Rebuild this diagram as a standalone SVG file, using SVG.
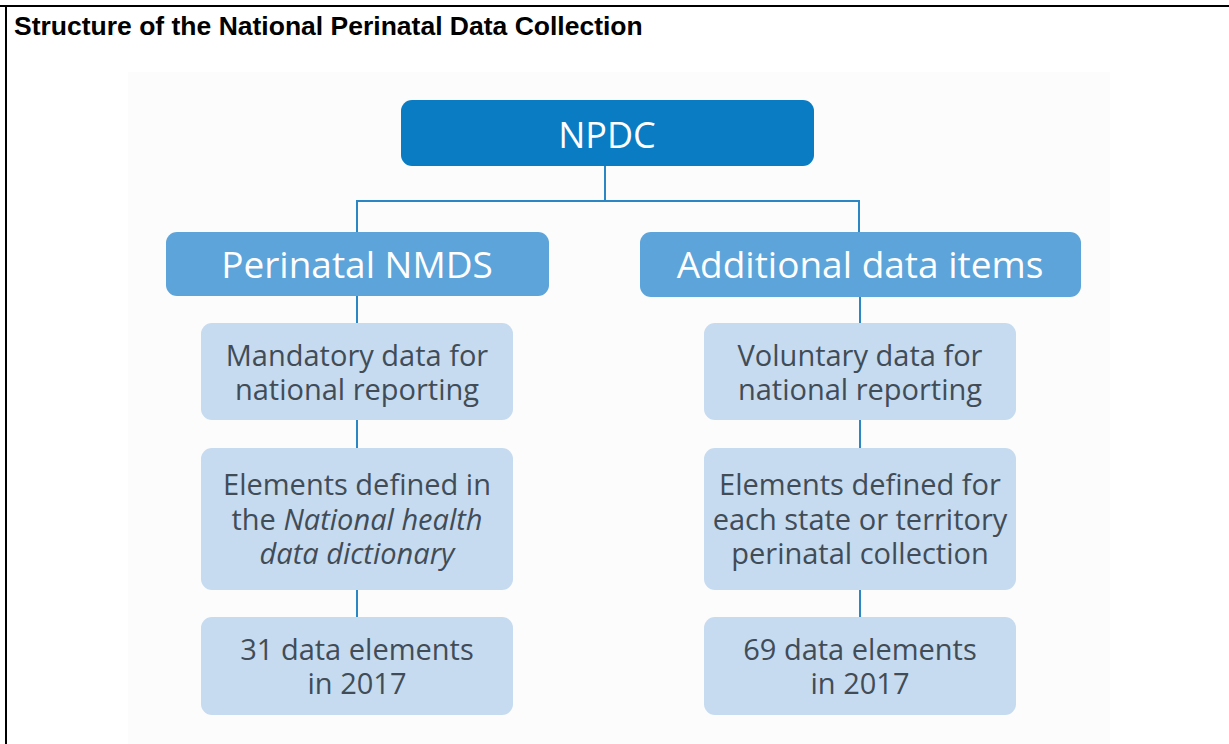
<svg xmlns="http://www.w3.org/2000/svg" width="1229" height="744" viewBox="0 0 1229 744">
<style>
.title{font-family:"Liberation Sans",Arial,sans-serif;font-weight:bold;font-size:26.5px;fill:#000}
.top{fill:#0a7cc4}
.mid{fill:#5ca4da}
.leaf{fill:#c6dbef}
.ht{font-family:"Open Sans","Noto Sans",sans-serif;fill:#fff;text-anchor:middle}
.bt{font-family:"Open Sans","Noto Sans",sans-serif;font-size:29px;fill:#414c57;text-anchor:middle}
.conn{stroke:#2a87c3;stroke-width:2;fill:none}
</style>
<rect x="0" y="0" width="1229" height="744" fill="#fff"/>
<line x1="0" y1="6" x2="1229" y2="6" stroke="#000" stroke-width="2"/>
<line x1="6" y1="5" x2="6" y2="744" stroke="#000" stroke-width="2"/>
<text class="title" x="14" y="35">Structure of the National Perinatal Data Collection</text>
<rect x="128" y="72" width="982" height="672" fill="#fcfcfc"/>
<g id="connectors">
<path class="conn" d="M605,166 V201 M357,201 H859 M357,200 V232 M859,200 V232"/>
<path class="conn" d="M357,296 V323 M357,420 V448 M357,590 V617"/>
<path class="conn" d="M860,297 V323 M860,420 V448 M860,590 V617"/>
</g>
<g id="npdc">
<rect class="top" x="401" y="100" width="413" height="66" rx="11"/>
<text class="ht" x="607" y="148" font-size="36">NPDC</text>
</g>
<g id="nmds">
<rect class="mid" x="166" y="232" width="383" height="64" rx="11"/>
<text class="ht" x="357" y="278" font-size="37">Perinatal NMDS</text>
</g>
<g id="additional">
<rect class="mid" x="640" y="232" width="441" height="65" rx="11"/>
<text class="ht" x="860" y="278" font-size="37">Additional data items</text>
</g>
<g id="mandatory">
<rect class="leaf" x="201" y="323" width="312" height="97" rx="11"/>
<text class="bt" x="357" y="366">Mandatory data for</text>
<text class="bt" x="357" y="400">national reporting</text>
</g>
<g id="elements-left">
<rect class="leaf" x="201" y="448" width="312" height="142" rx="11"/>
<text class="bt" x="357" y="495">Elements defined in</text>
<text class="bt" x="357" y="530">the <tspan font-style="italic">National health</tspan></text>
<text class="bt" x="357" y="564" font-style="italic">data dictionary</text>
</g>
<g id="count-left">
<rect class="leaf" x="201" y="617" width="312" height="98" rx="11"/>
<text class="bt" x="357" y="660">31 data elements</text>
<text class="bt" x="357" y="694">in 2017</text>
</g>
<g id="voluntary">
<rect class="leaf" x="704" y="323" width="312" height="97" rx="11"/>
<text class="bt" x="860" y="366">Voluntary data for</text>
<text class="bt" x="860" y="400">national reporting</text>
</g>
<g id="elements-right">
<rect class="leaf" x="704" y="448" width="312" height="142" rx="11"/>
<text class="bt" x="860" y="495">Elements defined for</text>
<text class="bt" x="860" y="530">each state or territory</text>
<text class="bt" x="860" y="564">perinatal collection</text>
</g>
<g id="count-right">
<rect class="leaf" x="704" y="617" width="312" height="98" rx="11"/>
<text class="bt" x="860" y="660">69 data elements</text>
<text class="bt" x="860" y="694">in 2017</text>
</g>
</svg>
